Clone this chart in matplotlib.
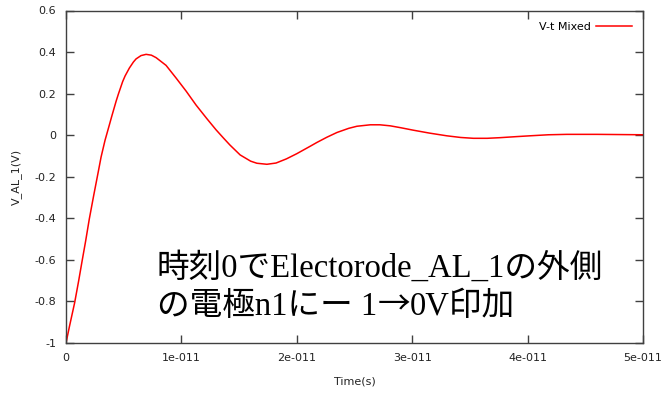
import matplotlib
matplotlib.use("Agg")
import matplotlib.pyplot as plt
import numpy as np

# time in units of 1e-11 s, voltage in V
t_units = [0.0, 0.03, 0.075, 0.11, 0.139, 0.17, 0.202, 0.24, 0.28, 0.304,
           0.338, 0.376, 0.396, 0.434, 0.454, 0.491, 0.512, 0.549, 0.584, 0.607,
           0.65, 0.694, 0.74, 0.781, 0.867, 0.954, 1.041, 1.127, 1.22, 1.30,
           1.365, 1.42, 1.509, 1.60, 1.654, 1.741, 1.82, 1.91, 2.0, 2.12,
           2.174, 2.26, 2.348, 2.45, 2.521, 2.637, 2.72, 2.81, 2.9, 3.01,
           3.15, 3.30, 3.42, 3.53, 3.65, 3.76, 3.9, 4.02, 4.18, 4.34,
           4.6, 4.8, 5.0]
voltage = [-1.0, -0.92, -0.806, -0.70, -0.607, -0.51, -0.403, -0.29, -0.175, -0.105,
           -0.025, 0.05, 0.09, 0.163, 0.198, 0.258, 0.285, 0.323, 0.352, 0.367,
           0.383, 0.389, 0.385, 0.373, 0.336, 0.275, 0.212, 0.145, 0.080, 0.026,
           -0.014, -0.047, -0.095, -0.125, -0.135, -0.140, -0.134, -0.114, -0.089, -0.052,
           -0.035, -0.010, 0.013, 0.033, 0.043, 0.050, 0.050, 0.045, 0.036, 0.024,
           0.010, -0.003, -0.011, -0.015, -0.015, -0.012, -0.007, -0.003, 0.002, 0.004,
           0.004, 0.003, 0.002]
x_ticks = [0, 1e-11, 2e-11, 3e-11, 4e-11, 5e-11]
x_tick_labels = ["0", "1e-011", "2e-011", "3e-011", "4e-011", "5e-011"]
y_ticks = [-1, -0.8, -0.6, -0.4, -0.2, 0, 0.2, 0.4, 0.6]
y_tick_labels = ["-1", "-0.8", "-0.6", "-0.4", "-0.2", "0", "0.2", "0.4", "0.6"]
series_label = "V-t Mixed"
line1 = "時刻0でElectorode_AL_1の外側"
line2_parts = ["の電極n1にー 1", "→", "0V印加"]

t = np.array(t_units) * 1e-11
W, H = 665, 396

fig = plt.figure(figsize=(6.65, 3.96), dpi=100)
ax = fig.add_axes([66/W, 1-343/H, (643-66)/W, (343-10.5)/H])

ax.plot(t, voltage, color="#ff0000", lw=1.1, label=series_label)
ax.set_xlim(0, 5e-11)
ax.set_ylim(-1, 0.6)
ax.set_xticks(x_ticks)
ax.set_xticklabels(x_tick_labels)
ax.set_yticks(y_ticks)
ax.set_yticklabels(y_tick_labels)
ax.tick_params(direction="in", length=6, width=1, color="#404040",
               top=True, right=True, labelsize=8, labelcolor="#222222", pad=7)
for s in ax.spines.values():
    s.set_color("#404040")
    s.set_linewidth(1.0)

ax.set_xlabel("Time(s)", fontsize=8, color="#222222", labelpad=10)
ax.set_ylabel("V_AL_1(V)", fontsize=8, color="#222222", labelpad=9)

leg = ax.legend(loc="upper right", frameon=False, markerfirst=False,
                fontsize=8, handlelength=3.2, borderaxespad=0.6, handletextpad=0.5)

fam = ["Liberation Serif", "Noto Sans CJK JP"]
fs = 23.5
ax_text_kw = dict(transform=fig.transFigure, fontsize=fs, va="baseline",
                  ha="left", color="black")
fig.text(157/W, 1-277/H, line1, family=fam, **ax_text_kw)

renderer = fig.canvas.get_renderer()
x_px = 157
fams = [fam, ["Noto Sans CJK JP"], fam]
for part, f in zip(line2_parts, fams):
    txt = fig.text(x_px/W, 1-315/H, part, family=f, **ax_text_kw)
    bb = txt.get_window_extent(renderer)
    x_px = bb.x1

fig.savefig("out.png", dpi=100)
